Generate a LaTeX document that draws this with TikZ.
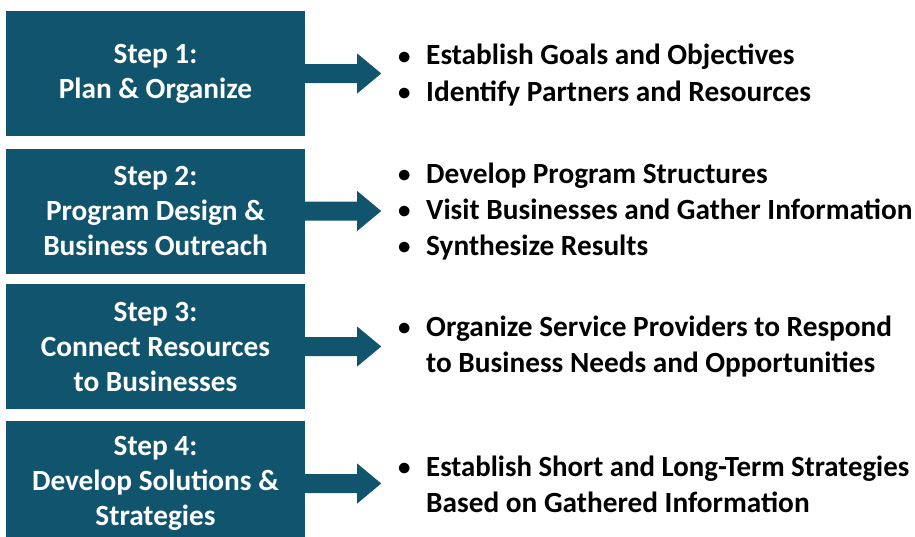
\documentclass[tikz,border=0pt]{standalone}
\usepackage{fontspec}
\usepackage{graphicx}
\setmainfont{Carlito}
\definecolor{stepblue}{RGB}{16,84,110}
\tikzset{
  stepbox/.style={fill=stepblue, minimum width=299pt, minimum height=125pt, inner sep=0pt,
    text=white, font=\fontsize{29.3}{35}\selectfont\bfseries, align=center},
  bullist/.style={anchor=west, inner sep=0pt, text=black, align=left,
    font=\fontsize{29.3}{36}\selectfont\bfseries},
  blockarrow/.style={fill=stepblue}
}
\newcommand{\bl}{\makebox[29pt][l]{\hspace*{1pt}\raisebox{1pt}{\scalebox{0.85}{\textbullet}}}}
\newcommand{\ind}{\hspace*{29pt}}
\begin{document}
\begin{tikzpicture}[x=1pt,y=-1pt]
\useasboundingbox (0,0) rectangle (915,536);
\clip (0,0) rectangle (915,536);
\node[stepbox] (s1) at (155.5,73.5) {Step 1:\\Plan \& Organize};
\node[stepbox] (s2) at (155.5,211) {Step 2:\\Program Design \&\\Business Outreach};
\node[stepbox] (s3) at (155.5,346.5) {Step 3:\\Connect Resources\\to Businesses};
\node[stepbox] (s4) at (155.5,483.5) {Step 4:\\Develop Solutions \&\\Strategies};
\foreach \s in {s1,s2,s3,s4}{
  \fill[blockarrow] (\s.east) ++(0,-9.5) -- ++(52,0) -- ++(0,-10.5) -- ++(24,20)
    -- ++(-24,20) -- ++(0,-10.5) -- ++(-52,0) -- cycle;
}
\node[bullist] (l1) at (397,75) {\bl Establish Goals and Objectives\\\bl Identify Partners and Resources};
\node[bullist] (l2) at (397,212) {\bl Develop Program Structures\\\bl Visit Businesses and Gather Information\\\bl Synthesize Results};
\node[bullist] (l3) at (397,347) {\bl Organize Service Providers to Respond\\\ind to Business Needs and Opportunities};
\node[bullist] (l4) at (397,484.5) {\bl \resizebox{483pt}{\height}{Establish Short and Long-Term Strategies}\\\ind Based on Gathered Information};
\end{tikzpicture}
\end{document}
